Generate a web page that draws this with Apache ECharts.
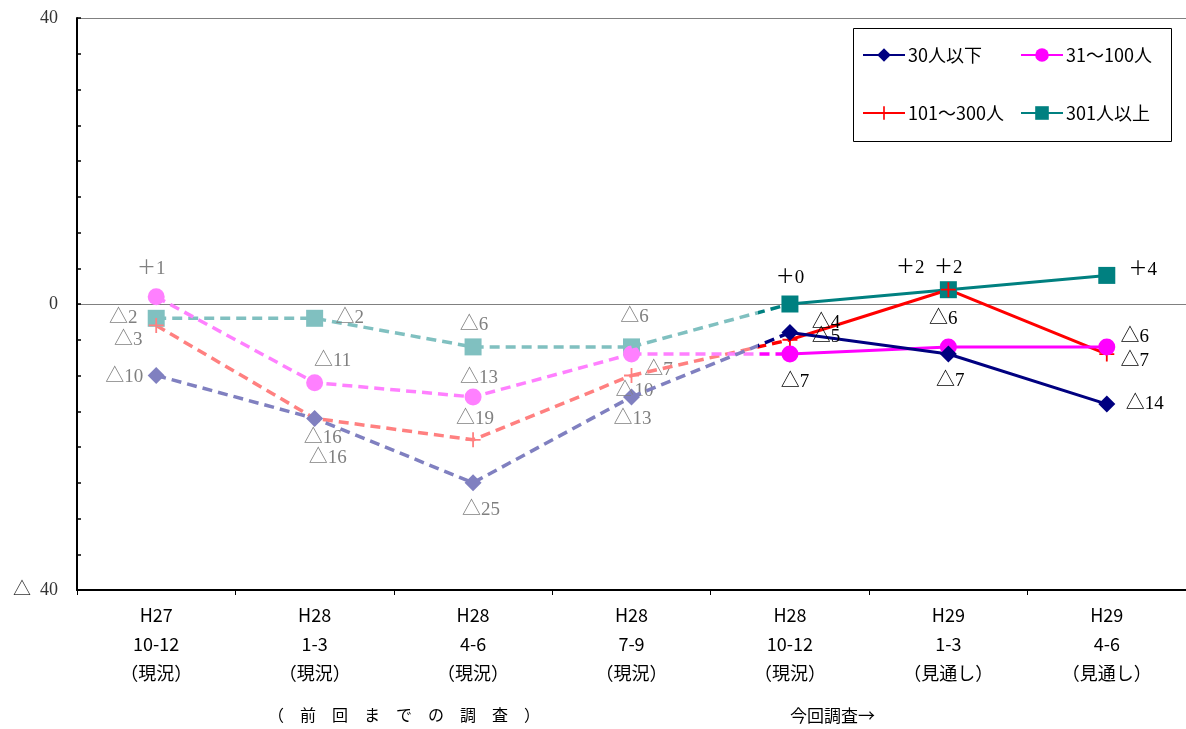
<!DOCTYPE html>
<html>
<head>
<meta charset="utf-8">
<script src="https://cdn.jsdelivr.net/npm/echarts@6/dist/echarts.min.js"></script>
<style>
  html, body { margin: 0; padding: 0; background: #fff; }
  #chart { width: 1186px; height: 729px; }
</style>
</head>
<body>
<div id="chart"></div>
<script>
// Business outlook by company size (DI), past surveys (dashed, pale) and current survey (solid)
const categories = [
  'H27\n10-12\n（現況）',
  'H28\n1-3\n（現況）',
  'H28\n4-6\n（現況）',
  'H28\n7-9\n（現況）',
  'H28\n10-12\n（現況）',
  'H29\n1-3\n（見通し）',
  'H29\n4-6\n（見通し）'
];
const under30 = [-10, -16, -25, -13, -4, -7, -14];
const from31to100 = [1, -11, -13, -7, -7, -6, -6];
const from101to300 = [-3, -16, -19, -10, -5, 2, -7];
const over301 = [-2, -2, -6, -6, 0, 2, 4];

const seriesNames = ['30人以下', '31～100人', '101～300人', '301人以上'];
const yTicks = { min: -40, max: 40, step: 40 };
const lastPastIndex = 3; // points up to here belong to earlier surveys

// label placement (pixel offsets from each point)
const labelOffsets = {
  under30:      [[-32, 2], [13, 40], [8, 27], [1, 22], [36, -10], [2, 27], [38, 0]],
  from31to100:  [[-5, -28], [18, -22], [6, -19], [27, 16], [5, 28], [-5, -28], [28, -10]],
  from101to300: [[-28, 15], [8, 20], [2, -21], [3, 16], [36, -3], [-38, -22], [28, 7]],
  over301:      [[-33, 0], [35, 0], [1, -22], [3, -30], [0, -26], [0, -22], [36, -5]]
};

const LABEL_FONT = "'Liberation Serif', 'Noto Sans CJK JP', serif";
const SANS_FONT = "'Noto Sans CJK JP', 'Liberation Sans', sans-serif";

function fmtValue(v) {
  return v < 0 ? '△' + (-v) : '＋' + v;
}

const plusPath = 'path://M4.4,0h1.2v10h-1.2z M0,4.4h10v1.2h-10z';

function buildSeries(name, values, dark, pale, symbol, size, offsets) {
  const past = values.map((v, i) => i <= lastPastIndex ? {
    value: v,
    label: { offset: offsets[i] }
  } : '-');
  const current = values.map((v, i) => i > lastPastIndex ? {
    value: v,
    label: { offset: offsets[i] }
  } : '-');
  const bridge = values.map((v, i) => (i === lastPastIndex || i === lastPastIndex + 1) ? v : '-');

  const labelBase = {
    show: true,
    position: 'inside',
    fontSize: 19,
    fontFamily: LABEL_FONT,
    formatter: p => fmtValue(p.value)
  };

  return [
    {
      name: name + '（前回まで）',
      type: 'line',
      data: past,
      symbol: symbol,
      symbolSize: size,
      z: 2,
      itemStyle: { color: pale },
      lineStyle: { color: pale, width: 3.5, type: [10, 6] },
      label: Object.assign({}, labelBase, { color: '#808080' }),
      emphasis: { disabled: true },
      animation: false
    },
    {
      name: name + '（接続）',
      type: 'line',
      data: bridge,
      showSymbol: false,
      symbol: 'none',
      z: 3,
      lineStyle: {
        width: 3.5,
        type: [10, 6],
        color: new echarts.graphic.LinearGradient(0, 0, 1, 0, [
          { offset: 0, color: pale },
          { offset: 0.79, color: pale },
          { offset: 0.79, color: dark },
          { offset: 1, color: dark }
        ])
      },
      emphasis: { disabled: true },
      animation: false
    },
    {
      name: name,
      type: 'line',
      data: current,
      symbol: symbol,
      symbolSize: size,
      z: 5,
      itemStyle: { color: dark },
      lineStyle: { color: dark, width: 3 },
      label: Object.assign({}, labelBase, { color: '#000' }),
      emphasis: { disabled: true },
      animation: false
    }
  ];
}

const series = [].concat(
  buildSeries(seriesNames[3], over301, '#008080', '#80C0C0', 'rect', 17, labelOffsets.over301),
  buildSeries(seriesNames[2], from101to300, '#FF0000', '#FF8080', plusPath, 15, labelOffsets.from101to300),
  buildSeries(seriesNames[1], from31to100, '#FF00FF', '#FF80FF', 'circle', 17, labelOffsets.from31to100),
  buildSeries(seriesNames[0], under30, '#000080', '#8080C0', 'diamond', 17, labelOffsets.under30)
);

function legendAt(name, left, top) {
  return {
    data: [name],
    left: left,
    top: top,
    padding: 0,
    itemWidth: 42,
    itemHeight: 17,
    itemGap: 0,
    selectedMode: false,
    z: 12,
    textStyle: { fontSize: 18, fontFamily: SANS_FONT, color: '#000', padding: [0, 0, 0, -2] }
  };
}

const chart = echarts.init(document.getElementById('chart'), null, { renderer: 'canvas' });
chart.setOption({
  backgroundColor: '#fff',
  animation: false,
  grid: { left: 77, right: 0, top: 18, bottom: 139, containLabel: false },
  xAxis: {
    type: 'category',
    data: categories,
    boundaryGap: true,
    axisLine: { onZero: false, lineStyle: { color: '#000', width: 2 } },
    axisTick: { show: true, length: 5, lineStyle: { color: '#000', width: 1 } },
    axisLabel: {
      interval: 0,
      margin: 11,
      color: '#000',
      fontSize: 18,
      lineHeight: 29,
      fontFamily: SANS_FONT
    },
    splitLine: { show: false }
  },
  yAxis: {
    type: 'value',
    min: yTicks.min,
    max: yTicks.max,
    interval: yTicks.step,
    axisLine: { show: true, onZero: false, lineStyle: { color: '#000', width: 2 } },
    axisTick: { show: true, inside: true, length: 4, lineStyle: { color: '#000', width: 1.5 } },
    minorTick: { show: true, splitNumber: 8, length: 4, lineStyle: { color: '#000', width: 1.5 } },
    axisLabel: {
      margin: 19,
      color: '#333',
      fontSize: 18,
      fontFamily: LABEL_FONT,
      formatter: v => v < 0 ? '△  ' + (-v) : String(v)
    },
    splitLine: { show: true, lineStyle: { color: '#808080', width: 1.2 } }
  },
  legend: [
    legendAt(seriesNames[0], 862, 46),
    legendAt(seriesNames[1], 1020, 46),
    legendAt(seriesNames[2], 862, 104),
    legendAt(seriesNames[3], 1020, 104)
  ],
  graphic: [
    {
      type: 'rect',
      z: 10,
      shape: { x: 853.5, y: 28.5, width: 318, height: 113 },
      style: { fill: '#fff', stroke: '#000', lineWidth: 1 }
    },
    {
      type: 'text',
      z: 10,
      left: 268,
      top: 707,
      style: {
        text: '（　前　回　ま　で　の　調　査　）',
        fill: '#000',
        fontSize: 16,
        fontFamily: SANS_FONT
      }
    },
    {
      type: 'text',
      z: 10,
      left: 790,
      top: 707,
      style: {
        text: '今回調査→',
        fill: '#000',
        fontSize: 17,
        fontFamily: SANS_FONT
      }
    }
  ],
  series: series
});
</script>
</body>
</html>
